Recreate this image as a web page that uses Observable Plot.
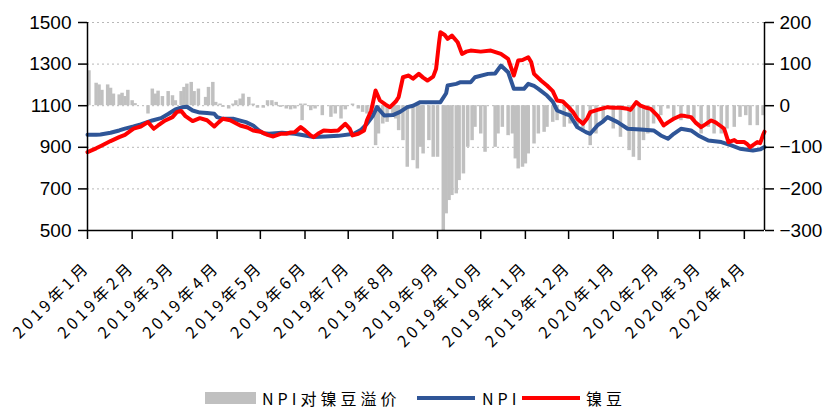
<!DOCTYPE html>
<html><head><meta charset="utf-8">
<script src="https://cdn.jsdelivr.net/npm/d3@7"></script>
<script src="https://cdn.jsdelivr.net/npm/@observablehq/plot@0.6"></script>
<style>
body{margin:0;background:#fff}
#wrap{position:relative;width:837px;height:413px;background:#fff}
#wrap g[aria-label="x-axis tick label"] text{letter-spacing:3.5px}
#legend{position:absolute;left:0;top:380px;width:837px;height:33px;font-family:"Noto Sans CJK SC",sans-serif;font-size:16px;color:#000}
#legend span{position:absolute;white-space:nowrap;letter-spacing:4px;line-height:16px;top:10px}
#legend i{position:absolute;display:block}
</style>
</head><body><div id="wrap"><div id="legend"></div></div>
<script>
// 镍豆 (left axis)
const nickel = [["2019-01-01",877],["2019-01-07",895],["2019-01-11",909],["2019-01-17",930],["2019-01-23",949],["2019-01-27",960],
["2019-02-02",990],["2019-02-07",1000],["2019-02-12",1021],["2019-02-16",989],["2019-02-19",1005],["2019-02-24",1029],
["2019-03-01",1045],["2019-03-04",1069],["2019-03-07",1075],["2019-03-10",1050],["2019-03-15",1026],["2019-03-20",1040],["2019-03-25",1030],["2019-03-30",1000],
["2019-04-02",1020],["2019-04-05",1037],["2019-04-10",1030],["2019-04-17",1005],["2019-04-22",995],["2019-04-26",981],
["2019-05-01",975],["2019-05-06",960],["2019-05-10",952],["2019-05-15",965],["2019-05-19",965],["2019-05-22",971],["2019-05-25",973],["2019-05-29",997],
["2019-06-01",981],["2019-06-05",957],["2019-06-07",949],["2019-06-10",965],["2019-06-14",981],["2019-06-19",978],["2019-06-24",981],["2019-06-29",1013],
["2019-07-02",990],["2019-07-04",957],["2019-07-08",965],["2019-07-12",981],["2019-07-14",1030],["2019-07-17",1077],["2019-07-20",1173],["2019-07-23",1125],["2019-07-27",1105],["2019-07-30",1093],
["2019-08-03",1120],["2019-08-05",1141],["2019-08-08",1237],["2019-08-12",1245],["2019-08-15",1230],["2019-08-19",1253],["2019-08-22",1235],["2019-08-25",1221],["2019-08-29",1240],["2019-08-31",1277],
["2019-09-02",1400],["2019-09-03",1453],["2019-09-06",1440],["2019-09-08",1421],["2019-09-11",1437],["2019-09-15",1405],["2019-09-18",1349],["2019-09-21",1360],["2019-09-24",1365],
["2019-10-01",1360],["2019-10-08",1365],["2019-10-15",1349],["2019-10-20",1325],["2019-10-24",1245],["2019-10-27",1317],["2019-10-30",1320],
["2019-11-03",1333],["2019-11-05",1310],["2019-11-07",1253],["2019-11-12",1220],["2019-11-16",1197],["2019-11-20",1170],["2019-11-23",1125],["2019-11-27",1120],["2019-11-30",1100],
["2019-12-04",1070],["2019-12-07",1037],["2019-12-11",1013],["2019-12-14",1040],["2019-12-16",1069],["2019-12-21",1080],["2019-12-28",1093],
["2020-01-01",1090],["2020-01-06",1090],["2020-01-11",1085],["2020-01-13",1080],["2020-01-17",1117],["2020-01-20",1100],["2020-01-24",1090],["2020-01-27",1085],
["2020-02-01",1050],["2020-02-05",1005],["2020-02-08",1020],["2020-02-12",1037],["2020-02-17",1053],["2020-02-20",1050],["2020-02-24",1045],["2020-02-27",1020],
["2020-03-02",997],["2020-03-05",1010],["2020-03-09",1029],["2020-03-12",1020],["2020-03-16",1000],["2020-03-18",989],["2020-03-21",925],["2020-03-25",935],["2020-03-27",925],
["2020-04-01",925],["2020-04-03",915],["2020-04-05",901],["2020-04-08",915],["2020-04-10",925],["2020-04-12",920],["2020-04-14",960],["2020-04-15",975]];

// NPI (left axis)
const npi = [["2019-01-01",960],["2019-01-07",960],["2019-01-10",962],["2019-01-17",970],["2019-01-23",981],["2019-01-27",990],
["2019-02-02",1000],["2019-02-07",1010],["2019-02-15",1029],["2019-02-21",1040],["2019-02-26",1060],
["2019-03-03",1082],["2019-03-08",1093],["2019-03-11",1095],["2019-03-15",1077],["2019-03-20",1067],["2019-03-25",1065],["2019-03-30",1061],
["2019-04-01",1045],["2019-04-05",1037],["2019-04-12",1037],["2019-04-21",1021],["2019-04-26",1005],["2019-04-30",981],
["2019-05-03",968],["2019-05-07",965],["2019-05-16",970],["2019-05-25",965],
["2019-06-01",957],["2019-06-07",949],["2019-06-15",952],["2019-06-24",955],
["2019-07-05",965],["2019-07-10",985],["2019-07-14",1013],["2019-07-18",1050],["2019-07-21",1093],["2019-07-26",1053],
["2019-08-01",1055],["2019-08-06",1070],["2019-08-11",1093],["2019-08-15",1100],["2019-08-20",1117],
["2019-09-03",1117],["2019-09-07",1160],["2019-09-08",1197],["2019-09-14",1205],["2019-09-17",1213],["2019-09-24",1213],["2019-09-27",1237],
["2019-10-06",1253],["2019-10-11",1255],["2019-10-15",1293],["2019-10-20",1261],["2019-10-24",1181],["2019-10-31",1181],
["2019-11-03",1205],["2019-11-07",1195],["2019-11-10",1181],["2019-11-16",1149],["2019-11-20",1120],["2019-11-23",1077],["2019-11-29",1060],
["2019-12-02",1053],["2019-12-07",997],["2019-12-13",973],["2019-12-16",965],["2019-12-21",1005],["2019-12-25",1025],["2019-12-28",1045],
["2020-01-04",1021],["2020-01-11",989],["2020-01-20",985],["2020-01-29",981],
["2020-02-03",957],["2020-02-08",941],["2020-02-12",965],["2020-02-17",989],["2020-02-24",981],["2020-02-29",957],
["2020-03-07",933],["2020-03-16",925],["2020-03-23",909],["2020-03-29",893],
["2020-04-07",885],["2020-04-12",890],["2020-04-15",901]];

// NPI对镍豆溢价 (right axis)
const premium = [["2019-01-02",84],["2019-01-07",54],["2019-01-09",50],["2019-01-11",37],["2019-01-15",50],["2019-01-17",42],["2019-01-19",28],["2019-01-23",26],["2019-01-25",30],["2019-01-27",22],["2019-01-29",37],
["2019-02-01",12],["2019-02-03",5],["2019-02-12",-20],["2019-02-15",40],["2019-02-17",28],["2019-02-19",35],["2019-02-22",22],["2019-02-26",34],
["2019-03-01",24],["2019-03-03",12],["2019-03-07",34],["2019-03-09",44],["2019-03-11",52],["2019-03-14",56],["2019-03-16",34],["2019-03-19",40],["2019-03-24",20],["2019-03-26",44],["2019-03-29",56],["2019-03-31",8],
["2019-04-03",4],["2019-04-05",-4],["2019-04-09",-8],["2019-04-12",4],["2019-04-14",12],["2019-04-17",16],["2019-04-19",28],["2019-04-23",20],["2019-04-26",4],["2019-04-29",-6],
["2019-05-03",-6],["2019-05-06",12],["2019-05-09",12],["2019-05-12",8],["2019-05-15",-4],["2019-05-19",-8],["2019-05-22",-10],["2019-05-25",-8],["2019-05-29",4],["2019-05-30",-36],
["2019-06-01",4],["2019-06-05",-12],["2019-06-08",-8],["2019-06-13",-24],["2019-06-19",-28],["2019-06-22",-20],["2019-06-26",-32],["2019-06-29",-10],
["2019-07-04",4],["2019-07-08",-8],["2019-07-11",-16],["2019-07-14",-20],["2019-07-17",-20],["2019-07-20",-96],["2019-07-22",-68],["2019-07-25",-44],["2019-07-28",-40],
["2019-08-01",-28],["2019-08-03",-32],["2019-08-05",-60],["2019-08-08",-84],["2019-08-11",-148],["2019-08-15",-132],["2019-08-18",-152],["2019-08-20",-100],["2019-08-22",-116],["2019-08-26",-84],["2019-08-29",-124],
["2019-09-01",-124],["2019-09-05",-300],["2019-09-07",-260],["2019-09-09",-228],["2019-09-11",-216],["2019-09-14",-212],["2019-09-16",-180],["2019-09-19",-164],["2019-09-22",-100],["2019-09-25",-84],["2019-09-27",-52],
["2019-10-01",-68],["2019-10-04",-112],["2019-10-11",-100],["2019-10-13",-68],["2019-10-16",-52],["2019-10-20",-72],["2019-10-23",-68],["2019-10-25",-128],["2019-10-27",-152],["2019-10-30",-148],
["2019-11-01",-140],["2019-11-03",-116],["2019-11-07",-92],["2019-11-10",-68],["2019-11-14",-64],["2019-11-16",-52],["2019-11-20",-40],["2019-11-23",-36],["2019-11-28",-52],
["2019-12-02",-44],["2019-12-07",-52],["2019-12-11",-64],["2019-12-16",-96],["2019-12-20",-68],["2019-12-25",-40],
["2020-01-01",-56],["2020-01-06",-76],["2020-01-12",-108],["2020-01-15",-124],["2020-01-19",-132],["2020-01-22",-84],["2020-01-25",-68],["2020-01-29",-44],
["2020-02-03",-24],["2020-02-08",-8],["2020-02-12",-32],["2020-02-17",-36],["2020-02-22",-32],["2020-02-26",-36],
["2020-03-02",-68],["2020-03-07",-52],["2020-03-11",-68],["2020-03-16",-68],["2020-03-20",-56],["2020-03-25",-52],["2020-03-29",-28],
["2020-04-02",-24],["2020-04-05",-48],["2020-04-10",-48],["2020-04-14",-24]];

const leftTicks = [500, 700, 900, 1100, 1300, 1500];
const monthTicks = ["2019-01-01","2019-02-01","2019-03-01","2019-04-01","2019-05-01","2019-06-01","2019-07-01","2019-08-01","2019-09-01","2019-10-01","2019-11-01","2019-12-01","2020-01-01","2020-02-01","2020-03-01","2020-04-01"];
const xStart = "2019-01-01", xEnd = "2020-04-15";
const legendItems = [{label:"NPI对镍豆溢价", color:"#c0c0c0", kind:"bar"},{label:"NPI", color:"#2f5597", kind:"line"},{label:"镍豆", color:"#ff0000", kind:"line"}];

const parse = d3.utcParse("%Y-%m-%d");
const toRows = arr => arr.map(([d, v]) => ({date: parse(d), v}));
const nickelRows = toRows(nickel), npiRows = toRows(npi), premRows = toRows(premium);
// right axis (-300..200) maps onto left axis (500..1500): 0 ↔ 1100, 1 unit ↔ 2
const toLeft = v => 1100 + 2 * v;
const fmtRight = d => { const v = Math.round((d - 1100) / 2); return (v < 0 ? "\u2212" : "") + Math.abs(v); };

const chart = Plot.plot({
  width: 837, height: 380,
  marginLeft: 87, marginRight: 73, marginTop: 22, marginBottom: 150,
  x: {type: "utc", domain: [parse(xStart), parse(xEnd)], label: null},
  y: {domain: [500, 1500], label: null},
  style: {fontFamily: "'Liberation Sans', Arial, sans-serif", fontSize: "19px", color: "#000", background: "#fff", overflow: "visible"},
  marks: [
    Plot.ruleY(leftTicks.filter(d => d > 500), {stroke: "#b8b8b8", strokeDasharray: "2,3", strokeWidth: 1}),
    Plot.ruleX(premRows, {x: "date", y1: toLeft(0), y2: d => toLeft(d.v), stroke: "#c0c0c0", strokeWidth: 3.5}),
    Plot.line(npiRows, {x: "date", y: "v", stroke: "#2f5597", strokeWidth: 4}),
    Plot.line(nickelRows, {x: "date", y: "v", stroke: "#ff0000", strokeWidth: 4}),
    Plot.ruleY([500], {stroke: "#000", strokeWidth: 1.5}),
    Plot.ruleX([parse(xStart), parse(xEnd)], {y1: 500, y2: 1500, stroke: "#000", strokeWidth: 1.5}),
    Plot.axisY({ticks: leftTicks, tickFormat: d => String(d), tickSize: 9, tickPadding: 7, strokeWidth: 1.5}),
    Plot.axisY({anchor: "right", ticks: leftTicks, tickFormat: fmtRight, tickSize: 9, tickPadding: 6, strokeWidth: 1.5}),
    Plot.axisX({ticks: monthTicks.map(parse), tickFormat: d => `${d.getUTCFullYear()}年${d.getUTCMonth() + 1}月`,
      tickRotate: -45, tickSize: 9, tickPadding: 25, strokeWidth: 1.5,
      fontFamily: "'Noto Sans CJK SC', sans-serif", fontSize: 16})
  ]
});
const wrap = document.getElementById("wrap");
wrap.insertBefore(chart, wrap.firstChild);

// legend below the SVG
const legend = document.getElementById("legend");
const pos = [{sw: 205, tx: 262}, {sw: 417, tx: 482}, {sw: 522, tx: 586}];
legendItems.forEach((it, i) => {
  const sw = document.createElement("i");
  sw.style.left = pos[i].sw + "px";
  sw.style.background = it.color;
  if (it.kind === "bar") { sw.style.top = "12px"; sw.style.width = "51px"; sw.style.height = "12px"; }
  else { sw.style.top = "16px"; sw.style.width = "58px"; sw.style.height = "4px"; }
  legend.appendChild(sw);
  const t = document.createElement("span");
  t.style.left = pos[i].tx + "px";
  t.textContent = it.label;
  legend.appendChild(t);
});
</script></body></html>
